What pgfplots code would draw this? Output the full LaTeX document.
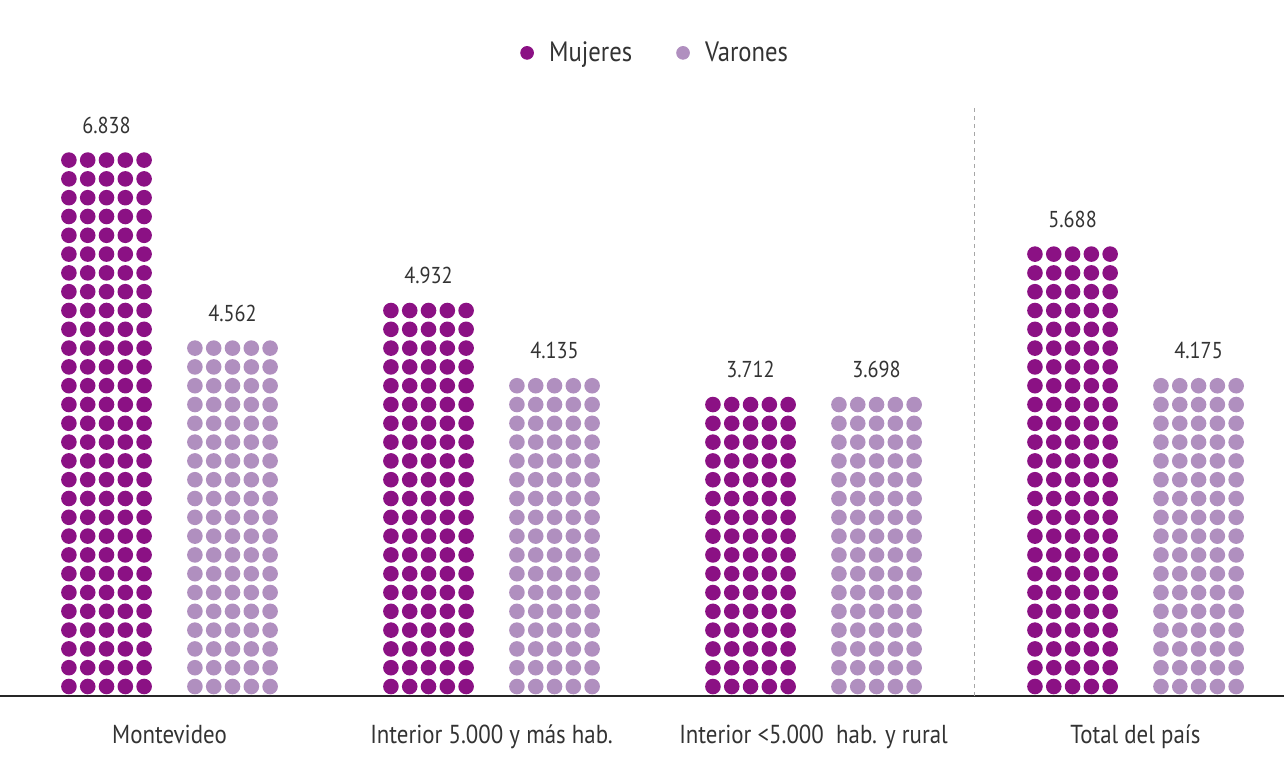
\documentclass[border=0pt]{standalone}
\usepackage{fontspec}
\setmainfont{PT Sans}[FakeStretch=0.88]
\usepackage{pgfplots}
\pgfplotsset{compat=1.18}

\definecolor{mdark}{HTML}{8B1184}
\definecolor{vlight}{HTML}{B08FBF}
\definecolor{txt}{HTML}{333333}

% a column of dots, 5 wide, rows counted from the value, standing on the axis line
\newcommand\dotmark[2]{%
  \pgfdeclareplotmark{#1}{%
    \pgfmathtruncatemacro{\nrows}{floor(\val/240+0.6)}%
    \pgfmathsetmacro{\hh}{\val*0.0397714}%
    \foreach \r in {1,...,\nrows}{%
      \foreach \c in {-2,...,2}{%
        \pgfmathsetmacro{\px}{#2+\c*9.4}%
        \pgfmathsetmacro{\py}{-\hh+(\r-0.5)*9.4}%
        \pgfpathcircle{\pgfpoint{\px pt}{\py pt}}{3.9pt}%
        \pgfusepath{fill}%
      }}}}
\dotmark{dotsL}{-31.5}
\dotmark{dotsR}{31.5}

\begin{document}
\begin{tikzpicture}
\useasboundingbox (0,-32pt) rectangle (642pt,348pt);
\begin{axis}[
    at={(0,0)}, anchor=south west,
    scale only axis,
    width=642pt, height=348pt,
    xmin=-0.5264, xmax=3.461,
    ymin=0, ymax=8750,
    axis line style={draw=none},
    ytick=\empty,
    xtick={0,1,2,3},
    xticklabels={Montevideo, Interior 5.000 y más hab., Interior <5.000~ hab. y rural, Total del país},
    major tick length=0pt,
    xticklabel style={anchor=base, yshift=-23.5pt, font=\fontsize{13}{15}\selectfont, text=txt},
    clip=false,
    only marks,
    visualization depends on={rawy \as \val},
    /pgf/number format/assume math mode=true,
    nodes near coords={\pgfmathprintnumber[1000 sep={.}]{\pgfplotspointmeta}},
    every node near coord/.append style={anchor=base, text=txt,
        font=\fontsize{11.5}{13}\selectfont,
        yshift={((floor(\val/240+0.6)-0.5)*9.4-\val*0.0397714+13.4)*1pt}},
    legend columns=2,
    legend style={at={(0.511,0.924)}, anchor=center, draw=none, fill=none,
        font=\fontsize{14}{16}\selectfont, text=txt,
        /tikz/every even column/.append style={column sep=20pt}},
]

% Mujeres
\addplot[color=mdark, mark=dotsL,
    every node near coord/.append style={xshift=-31.5pt},
    legend image code/.code={\fill[mdark] (0pt,0pt) circle (3.2pt);
        \path[draw=none, fill=none] (-3.2pt,-1pt) rectangle (9pt,1pt);}]
    coordinates {(0,6838) (1,4932) (2,3712) (3,5688)};
% Varones
\addplot[color=vlight, mark=dotsR,
    every node near coord/.append style={xshift=31.5pt},
    legend image code/.code={\fill[vlight] (0pt,0pt) circle (3.2pt);
        \path[draw=none, fill=none] (-3.2pt,-1pt) rectangle (9pt,1pt);}]
    coordinates {(0,4562) (1,4135) (2,3698) (3,4175)};
\legend{Mujeres, Varones}

\draw[black!85, line width=1pt] (rel axis cs:0,0) -- (rel axis cs:1,0);
\draw[black!35, line width=0.6pt, dash pattern=on 2pt off 2pt] (axis cs:2.5,0) -- (axis cs:2.5,7405);
\end{axis}
\end{tikzpicture}
\end{document}
